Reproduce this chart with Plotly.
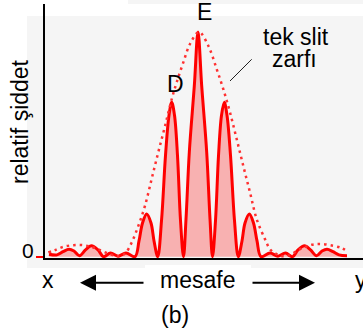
import plotly.graph_objects as go

# ---- data (x: mesafe in fringe-spacing units, y: relative intensity) ----
fringe_x = [-5.843, -5.529, -5.294, -5.059, -4.863, -4.647, -4.412, -4.176, -3.922, -3.706,
            -3.431, -3.137, -2.824, -2.471, -2.314, -2.176, -2.012, -1.843, -1.725, -1.580,
            -1.431, -1.275, -1.137, -1.031, -0.922, -0.804, -0.686, -0.569, -0.471, -0.341,
            -0.145, 0.0, 0.145, 0.341, 0.471, 0.569, 0.686, 0.804, 0.922, 1.031,
            1.137, 1.275, 1.431, 1.580, 1.725, 1.843, 2.012, 2.176, 2.314, 2.471,
            2.824, 3.137, 3.431, 3.706, 3.922, 4.176, 4.412, 4.647, 4.863, 5.059,
            5.294, 5.529, 5.843]
fringe_y = [0.011, 0.008, 0.022, 0.033, 0.025, 0.004, 0.030, 0.048, 0.030, 0.0,
            0.016, 0.002, 0.016, 0.0, 0.07, 0.15, 0.19, 0.15, 0.07, 0.0,
            0.16, 0.45, 0.63, 0.687, 0.63, 0.45, 0.16, 0.0, 0.167, 0.465,
            0.76, 1.0, 0.76, 0.465, 0.167, 0.0, 0.16, 0.45, 0.63, 0.687,
            0.63, 0.45, 0.16, 0.0, 0.07, 0.15, 0.19, 0.15, 0.07, 0.0,
            0.016, 0.002, 0.016, 0.0, 0.030, 0.048, 0.030, 0.004, 0.025, 0.033,
            0.022, 0.008, 0.004]

envelope_x = [-5.87, -5.61, -5.28, -4.89, -4.50, -4.11, -3.78, -3.52, -3.25, -3.02,
              -2.82, -2.60, -2.34, -2.08, -1.82, -1.56, -1.29, -1.03, -0.835, -0.576,
              -0.314, 0.04, 0.404, 0.733, 0.992, 1.255, 1.518, 1.776, 2.039, 2.302,
              2.627, 2.824, 3.02, 3.25, 3.53, 4.0, 4.46, 4.85, 5.31, 5.64, 5.83]
envelope_y = [0.019, 0.029, 0.044, 0.051, 0.051, 0.041, 0.026, 0.014, 0.004, 0.003,
              0.019, 0.063, 0.137, 0.226, 0.345, 0.464, 0.583, 0.702, 0.776, 0.865,
              0.947, 1.0, 0.939, 0.835, 0.746, 0.642, 0.523, 0.404, 0.286, 0.167,
              0.078, 0.033, 0.015, 0.003, 0.004, 0.033, 0.053, 0.056, 0.048, 0.038, 0.026]

y_ticks = [0]
y_tick_text = ["0"]

FONT = "Liberation Sans, Arial, sans-serif"

fig = go.Figure()
fig.add_trace(go.Scatter(
    x=fringe_x, y=fringe_y, mode="lines",
    line=dict(color="#ff0000", width=3, shape="spline", smoothing=1.0),
    fill="tozeroy", fillcolor="rgba(255,0,0,0.28)", hoverinfo="skip"))
fig.add_trace(go.Scatter(
    x=envelope_x, y=envelope_y, mode="lines",
    line=dict(color="#ff3030", width=2.5, dash="2.5px,4px", shape="spline"),
    hoverinfo="skip"))

W, H = 318.0, 254.0
L, T = 45.0, 4.0
def px(xp):
    return (xp - L) / W
def py(yp):
    return (T + H - yp) / H

shapes = [
    dict(type="rect", xref="paper", yref="paper", x0=px(27), x1=1.0, y0=py(268), y1=py(16),
         fillcolor="#f5f5f5", line=dict(width=0), layer="below"),
    dict(type="rect", xref="paper", yref="paper", x0=px(128), x1=1.0, y0=py(4), y1=py(0),
         fillcolor="#f5f5f5", line=dict(width=0), layer="below"),
    dict(type="rect", xref="paper", yref="paper", x0=px(145), x1=px(251), y0=py(272), y1=py(265),
         fillcolor="white", line=dict(width=0), layer="below"),
    dict(type="line", xref="paper", yref="paper", x0=px(230), y0=py(81), x1=px(251.7), y1=py(59.3),
         line=dict(color="#222222", width=1)),
]

def ann(text, xpix, ypix, size=23, angle=0, xanchor="center"):
    return dict(text=text, x=px(xpix), y=py(ypix), xref="paper", yref="paper",
                showarrow=False, xanchor=xanchor, yanchor="middle", textangle=angle,
                font=dict(family=FONT, size=size, color="black"))

annotations = [
    ann("E", 204.5, 12),
    ann("D", 175, 83.5),
    ann("tek slit", 295.5, 37),
    ann("zarfı", 294.5, 59),
    ann(y_tick_text[0], 27.5, 250.5, size=21),
    ann("relatif şiddet", 20.5, 121.5, angle=-90),
    ann("x", 47.5, 280),
    ann("mesafe", 197.5, 279.5),
    ann("y", 353, 280, xanchor="left"),
    ann("(b)", 175, 315),
    dict(text="", x=px(80), y=py(282.7), xref="paper", yref="paper", showarrow=True,
         ax=65, ay=0, arrowhead=2, arrowsize=1.6, arrowwidth=2, arrowcolor="black"),
    dict(text="", x=px(315), y=py(282.7), xref="paper", yref="paper", showarrow=True,
         ax=-64, ay=0, arrowhead=2, arrowsize=1.6, arrowwidth=2, arrowcolor="black"),
]

fig.update_layout(
    width=363, height=333,
    margin=dict(l=L, r=0, t=T, b=333 - T - H, pad=0),
    paper_bgcolor="white", plot_bgcolor="rgba(0,0,0,0)",
    showlegend=False,
    shapes=shapes, annotations=annotations,
    xaxis=dict(range=[-6.0, 6.47], showline=True, linecolor="black", linewidth=2,
               showgrid=False, zeroline=False, showticklabels=False, ticks=""),
    yaxis=dict(range=[-0.006, 1.125], showline=True, linecolor="black", linewidth=2,
               showgrid=False, zeroline=False, tickvals=y_ticks, ticktext=y_tick_text,
               showticklabels=False, ticks="outside", ticklen=7, tickwidth=2, tickcolor="#ff0000"),
)

fig.write_html("out.html")
